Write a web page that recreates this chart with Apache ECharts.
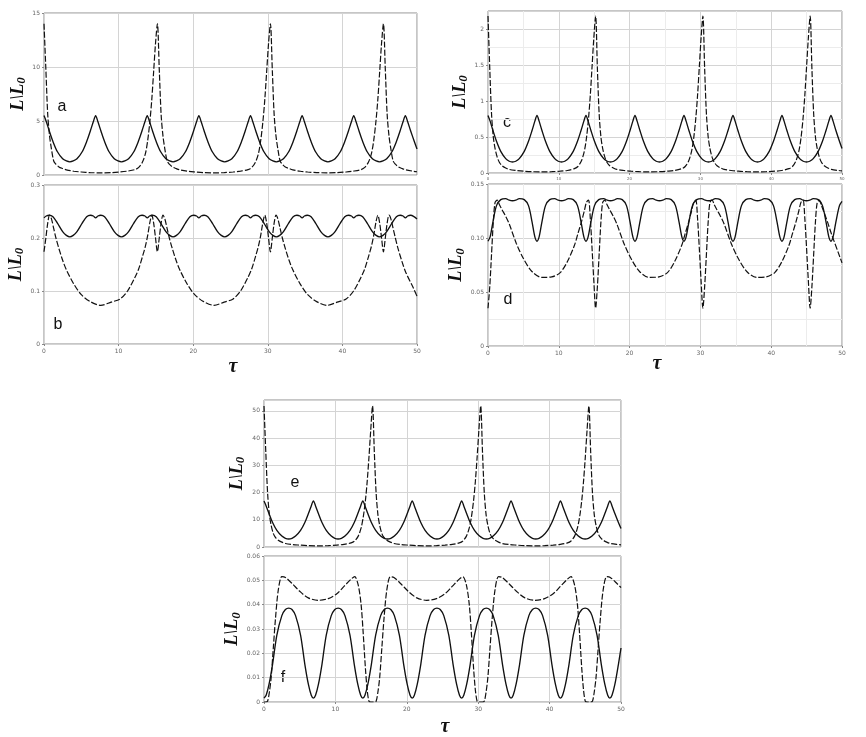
<!DOCTYPE html>
<html>
<head>
<meta charset="utf-8">
<script src="https://cdn.jsdelivr.net/npm/echarts@6/dist/echarts.min.js"></script>
<style>
  html, body { margin: 0; padding: 0; background: #fff; }
  #main { width: 866px; height: 737px; }
</style>
</head>
<body>
<div id="main"></div>
<script>
// tau samples for the solid curves (one period = peak, flank, trough, flank)
const solidTau = [
  0, 0.3, 0.7, 1.2, 1.8, 2.5, 3, 3.46, 3.92, 4.42, 5.12, 5.72, 6.22, 6.62,
  6.92, 7.22, 7.62, 8.12, 8.72, 9.42, 9.92, 10.38, 10.84, 11.34, 12.04, 12.64, 13.14, 13.54,
  13.84, 14.14, 14.54, 15.04, 15.64, 16.34, 16.84, 17.3, 17.76, 18.26, 18.96, 19.56, 20.06, 20.46,
  20.76, 21.06, 21.46, 21.96, 22.56, 23.26, 23.76, 24.22, 24.68, 25.18, 25.88, 26.48, 26.98, 27.38,
  27.68, 27.98, 28.38, 28.88, 29.48, 30.18, 30.68, 31.14, 31.6, 32.1, 32.8, 33.4, 33.9, 34.3,
  34.6, 34.9, 35.3, 35.8, 36.4, 37.1, 37.6, 38.06, 38.52, 39.02, 39.72, 40.32, 40.82, 41.22,
  41.52, 41.82, 42.22, 42.72, 43.32, 44.02, 44.52, 44.98, 45.44, 45.94, 46.64, 47.24, 47.74, 48.14,
  48.44, 48.74, 49.14, 49.64, 50
];
// tau samples for the dashed curves
const dashTau = [
  0, 0.25, 0.5, 0.75, 1, 1.3, 1.6, 2, 2.5, 3, 4, 5, 6.2, 7.6,
  9, 10.2, 11.2, 12.2, 12.7, 13.2, 13.6, 13.9, 14.2, 14.45, 14.7, 14.95, 15.2,
  15.45, 15.7, 15.95, 16.2, 16.5, 16.8, 17.2, 17.7, 18.2, 19.2, 20.2, 21.4, 22.78,
  24.15, 25.35, 26.35, 27.35, 27.85, 28.35, 28.75, 29.05, 29.35, 29.6, 29.85, 30.1, 30.35,
  30.6, 30.85, 31.1, 31.35, 31.65, 31.95, 32.35, 32.85, 33.35, 34.35, 35.35, 36.55, 37.93,
  39.3, 40.5, 41.5, 42.5, 43, 43.5, 43.9, 44.2, 44.5, 44.75, 45, 45.25, 45.5,
  45.75, 46, 46.25, 46.5, 46.8, 47.1, 47.5, 48, 48.5, 49.5, 50
];

// ---- panel a ----
const aSolid = [
  5.5, 4.95, 4.1, 3.1, 2.15, 1.5, 1.3, 1.22, 1.3, 1.5, 2.15, 3.1, 4.1, 4.95,
  5.5, 4.95, 4.1, 3.1, 2.15, 1.5, 1.3, 1.22, 1.3, 1.5, 2.15, 3.1, 4.1, 4.95,
  5.5, 4.95, 4.1, 3.1, 2.15, 1.5, 1.3, 1.22, 1.3, 1.5, 2.15, 3.1, 4.1, 4.95,
  5.5, 4.95, 4.1, 3.1, 2.15, 1.5, 1.3, 1.22, 1.3, 1.5, 2.15, 3.1, 4.1, 4.95,
  5.5, 4.95, 4.1, 3.1, 2.15, 1.5, 1.3, 1.22, 1.3, 1.5, 2.15, 3.1, 4.1, 4.95,
  5.5, 4.95, 4.1, 3.1, 2.15, 1.5, 1.3, 1.22, 1.3, 1.5, 2.15, 3.1, 4.1, 4.95,
  5.5, 4.95, 4.1, 3.1, 2.15, 1.5, 1.3, 1.22, 1.3, 1.5, 2.15, 3.1, 4.1, 4.95,
  5.5, 4.95, 4.1, 3.1, 2.4
];
const aDash = [
  14, 9.8, 5.6, 3.6, 2.4, 1.3, 1.0, 0.75, 0.6, 0.48, 0.35, 0.28, 0.22, 0.2,
  0.22, 0.28, 0.36, 0.5, 0.7, 1.2, 2.0, 3.2, 5.0, 7.0, 9.6, 12.2, 14,
  9.8, 5.6, 3.6, 2.4, 1.3, 1.0, 0.75, 0.6, 0.48, 0.35, 0.28, 0.22, 0.2,
  0.22, 0.28, 0.36, 0.5, 0.7, 1.2, 2.0, 3.2, 5.0, 7.0, 9.6, 12.2, 14,
  9.8, 5.6, 3.6, 2.4, 1.3, 1.0, 0.75, 0.6, 0.48, 0.35, 0.28, 0.22, 0.2,
  0.22, 0.28, 0.36, 0.5, 0.7, 1.2, 2.0, 3.2, 5.0, 7.0, 9.6, 12.2, 14,
  9.8, 5.6, 3.6, 2.4, 1.3, 1.0, 0.75, 0.6, 0.48, 0.35, 0.3
];

// ---- panel b ----
const bSolid = [
  0.238, 0.2415, 0.243, 0.24, 0.228, 0.212, 0.205, 0.202, 0.205, 0.212, 0.228, 0.24, 0.243, 0.2415,
  0.238, 0.2415, 0.243, 0.24, 0.228, 0.212, 0.205, 0.202, 0.205, 0.212, 0.228, 0.24, 0.243, 0.2415,
  0.238, 0.2415, 0.243, 0.24, 0.228, 0.212, 0.205, 0.202, 0.205, 0.212, 0.228, 0.24, 0.243, 0.2415,
  0.238, 0.2415, 0.243, 0.24, 0.228, 0.212, 0.205, 0.202, 0.205, 0.212, 0.228, 0.24, 0.243, 0.2415,
  0.238, 0.2415, 0.243, 0.24, 0.228, 0.212, 0.205, 0.202, 0.205, 0.212, 0.228, 0.24, 0.243, 0.2415,
  0.238, 0.2415, 0.243, 0.24, 0.228, 0.212, 0.205, 0.202, 0.205, 0.212, 0.228, 0.24, 0.243, 0.2415,
  0.238, 0.2415, 0.243, 0.24, 0.228, 0.212, 0.205, 0.202, 0.205, 0.212, 0.228, 0.24, 0.243, 0.2415,
  0.238, 0.2415, 0.243, 0.24, 0.236
];
const bDash = [
  0.174, 0.2, 0.228, 0.243, 0.236, 0.218, 0.2, 0.18, 0.158, 0.14, 0.113, 0.093, 0.08, 0.073,
  0.079, 0.085, 0.1, 0.126, 0.142, 0.165, 0.185, 0.205, 0.23, 0.243, 0.228, 0.2, 0.174,
  0.2, 0.228, 0.243, 0.236, 0.218, 0.2, 0.18, 0.158, 0.14, 0.113, 0.093, 0.08, 0.073,
  0.079, 0.085, 0.1, 0.126, 0.142, 0.165, 0.185, 0.205, 0.23, 0.243, 0.228, 0.2, 0.174,
  0.2, 0.228, 0.243, 0.236, 0.218, 0.2, 0.18, 0.158, 0.14, 0.113, 0.093, 0.08, 0.073,
  0.079, 0.085, 0.1, 0.126, 0.142, 0.165, 0.185, 0.205, 0.23, 0.243, 0.228, 0.2, 0.174,
  0.2, 0.228, 0.243, 0.236, 0.218, 0.2, 0.178, 0.155, 0.135, 0.106, 0.09
];

// ---- panel c ----
const cSolid = [
  0.8, 0.72, 0.59, 0.44, 0.3, 0.2, 0.163, 0.153, 0.163, 0.2, 0.3, 0.44, 0.59, 0.72,
  0.8, 0.72, 0.59, 0.44, 0.3, 0.2, 0.163, 0.153, 0.163, 0.2, 0.3, 0.44, 0.59, 0.72,
  0.8, 0.72, 0.59, 0.44, 0.3, 0.2, 0.163, 0.153, 0.163, 0.2, 0.3, 0.44, 0.59, 0.72,
  0.8, 0.72, 0.59, 0.44, 0.3, 0.2, 0.163, 0.153, 0.163, 0.2, 0.3, 0.44, 0.59, 0.72,
  0.8, 0.72, 0.59, 0.44, 0.3, 0.2, 0.163, 0.153, 0.163, 0.2, 0.3, 0.44, 0.59, 0.72,
  0.8, 0.72, 0.59, 0.44, 0.3, 0.2, 0.163, 0.153, 0.163, 0.2, 0.3, 0.44, 0.59, 0.72,
  0.8, 0.72, 0.59, 0.44, 0.3, 0.2, 0.163, 0.153, 0.163, 0.2, 0.3, 0.44, 0.59, 0.72,
  0.8, 0.72, 0.59, 0.44, 0.34
];
const cDash = [
  2.18, 1.45, 0.82, 0.5, 0.34, 0.22, 0.15, 0.1, 0.07, 0.05, 0.035, 0.025, 0.018, 0.015,
  0.018, 0.025, 0.035, 0.06, 0.09, 0.17, 0.3, 0.48, 0.76, 1.08, 1.48, 1.88, 2.18,
  1.45, 0.82, 0.5, 0.34, 0.22, 0.15, 0.1, 0.07, 0.05, 0.035, 0.025, 0.018, 0.015,
  0.018, 0.025, 0.035, 0.06, 0.09, 0.17, 0.3, 0.48, 0.76, 1.08, 1.48, 1.88, 2.18,
  1.45, 0.82, 0.5, 0.34, 0.22, 0.15, 0.1, 0.07, 0.05, 0.035, 0.025, 0.018, 0.015,
  0.018, 0.025, 0.035, 0.06, 0.09, 0.17, 0.3, 0.48, 0.76, 1.08, 1.48, 1.88, 2.18,
  1.45, 0.82, 0.5, 0.34, 0.22, 0.15, 0.1, 0.07, 0.05, 0.035, 0.03
];

// ---- panel d ----
const dSolid = [
  0.097, 0.101, 0.115, 0.13, 0.1355, 0.1365, 0.135, 0.1345, 0.135, 0.1365, 0.1355, 0.13, 0.115, 0.101,
  0.097, 0.101, 0.115, 0.13, 0.1355, 0.1365, 0.135, 0.1345, 0.135, 0.1365, 0.1355, 0.13, 0.115, 0.101,
  0.097, 0.101, 0.115, 0.13, 0.1355, 0.1365, 0.135, 0.1345, 0.135, 0.1365, 0.1355, 0.13, 0.115, 0.101,
  0.097, 0.101, 0.115, 0.13, 0.1355, 0.1365, 0.135, 0.1345, 0.135, 0.1365, 0.1355, 0.13, 0.115, 0.101,
  0.097, 0.101, 0.115, 0.13, 0.1355, 0.1365, 0.135, 0.1345, 0.135, 0.1365, 0.1355, 0.13, 0.115, 0.101,
  0.097, 0.101, 0.115, 0.13, 0.1355, 0.1365, 0.135, 0.1345, 0.135, 0.1365, 0.1355, 0.13, 0.115, 0.101,
  0.097, 0.101, 0.115, 0.13, 0.1355, 0.1365, 0.135, 0.1345, 0.135, 0.1365, 0.1355, 0.13, 0.115, 0.101,
  0.097, 0.101, 0.115, 0.13, 0.134
];
const dDash = [
  0.035, 0.055, 0.085, 0.115, 0.133, 0.135, 0.131, 0.126, 0.12, 0.113, 0.095, 0.081, 0.069, 0.0635,
  0.064, 0.068, 0.078, 0.093, 0.104, 0.115, 0.125, 0.133, 0.135, 0.118, 0.09, 0.06, 0.035,
  0.055, 0.085, 0.115, 0.133, 0.135, 0.131, 0.126, 0.12, 0.113, 0.095, 0.081, 0.069, 0.0635,
  0.064, 0.068, 0.078, 0.093, 0.104, 0.115, 0.125, 0.133, 0.135, 0.118, 0.09, 0.06, 0.035,
  0.055, 0.085, 0.115, 0.133, 0.135, 0.131, 0.126, 0.12, 0.113, 0.095, 0.081, 0.069, 0.0635,
  0.064, 0.068, 0.078, 0.093, 0.104, 0.115, 0.125, 0.133, 0.135, 0.118, 0.09, 0.06, 0.035,
  0.055, 0.085, 0.115, 0.133, 0.135, 0.13, 0.123, 0.114, 0.104, 0.086, 0.077
];

// ---- panel e ----
const eSolid = [
  16.9, 15.1, 12.3, 9, 6.1, 4, 3.2, 2.95, 3.2, 4, 6.1, 9, 12.3, 15.1,
  16.9, 15.1, 12.3, 9, 6.1, 4, 3.2, 2.95, 3.2, 4, 6.1, 9, 12.3, 15.1,
  16.9, 15.1, 12.3, 9, 6.1, 4, 3.2, 2.95, 3.2, 4, 6.1, 9, 12.3, 15.1,
  16.9, 15.1, 12.3, 9, 6.1, 4, 3.2, 2.95, 3.2, 4, 6.1, 9, 12.3, 15.1,
  16.9, 15.1, 12.3, 9, 6.1, 4, 3.2, 2.95, 3.2, 4, 6.1, 9, 12.3, 15.1,
  16.9, 15.1, 12.3, 9, 6.1, 4, 3.2, 2.95, 3.2, 4, 6.1, 9, 12.3, 15.1,
  16.9, 15.1, 12.3, 9, 6.1, 4, 3.2, 2.95, 3.2, 4, 6.1, 9, 12.3, 15.1,
  16.9, 15.1, 12.3, 9, 6.8
];
const eDash = [
  51.8, 35, 20, 12, 8, 5, 3.5, 2.5, 1.8, 1.3, 0.9, 0.7, 0.5, 0.4,
  0.5, 0.7, 0.95, 1.5, 2.2, 4, 7, 11, 17, 24, 33, 43, 51.8,
  35, 20, 12, 8, 5, 3.5, 2.5, 1.8, 1.3, 0.9, 0.7, 0.5, 0.4,
  0.5, 0.7, 0.95, 1.5, 2.2, 4, 7, 11, 17, 24, 33, 43, 51.8,
  35, 20, 12, 8, 5, 3.5, 2.5, 1.8, 1.3, 0.9, 0.7, 0.5, 0.4,
  0.5, 0.7, 0.95, 1.5, 2.2, 4, 7, 11, 17, 24, 33, 43, 51.8,
  35, 20, 12, 8, 5, 3.5, 2.5, 1.8, 1.3, 0.9, 0.8
];

// ---- panel f ----
const fSolid = [
  0.0016, 0.0028, 0.0072, 0.0155, 0.0275, 0.0355, 0.038, 0.0386, 0.038, 0.0355, 0.0275, 0.0155, 0.0072, 0.0028,
  0.0016, 0.0028, 0.0072, 0.0155, 0.0275, 0.0355, 0.038, 0.0386, 0.038, 0.0355, 0.0275, 0.0155, 0.0072, 0.0028,
  0.0016, 0.0028, 0.0072, 0.0155, 0.0275, 0.0355, 0.038, 0.0386, 0.038, 0.0355, 0.0275, 0.0155, 0.0072, 0.0028,
  0.0016, 0.0028, 0.0072, 0.0155, 0.0275, 0.0355, 0.038, 0.0386, 0.038, 0.0355, 0.0275, 0.0155, 0.0072, 0.0028,
  0.0016, 0.0028, 0.0072, 0.0155, 0.0275, 0.0355, 0.038, 0.0386, 0.038, 0.0355, 0.0275, 0.0155, 0.0072, 0.0028,
  0.0016, 0.0028, 0.0072, 0.0155, 0.0275, 0.0355, 0.038, 0.0386, 0.038, 0.0355, 0.0275, 0.0155, 0.0072, 0.0028,
  0.0016, 0.0028, 0.0072, 0.0155, 0.0275, 0.0355, 0.038, 0.0386, 0.038, 0.0355, 0.0275, 0.0155, 0.0072, 0.0028,
  0.0016, 0.0028, 0.0072, 0.0155, 0.0222
];
const fDash = [
  0, 0, 0.0003, 0.004, 0.01, 0.022, 0.034, 0.046, 0.0515, 0.0512, 0.0485, 0.0455, 0.0428, 0.0418,
  0.0425, 0.0445, 0.0475, 0.0505, 0.0515, 0.048, 0.04, 0.028, 0.014, 0.005, 0.0003, 0, 0,
  0, 0.0003, 0.004, 0.01, 0.022, 0.034, 0.046, 0.0515, 0.0512, 0.0485, 0.0455, 0.0428, 0.0418,
  0.0425, 0.0445, 0.0475, 0.0505, 0.0515, 0.048, 0.04, 0.028, 0.014, 0.005, 0.0003, 0, 0,
  0, 0.0003, 0.004, 0.01, 0.022, 0.034, 0.046, 0.0515, 0.0512, 0.0485, 0.0455, 0.0428, 0.0418,
  0.0425, 0.0445, 0.0475, 0.0505, 0.0515, 0.048, 0.04, 0.028, 0.014, 0.005, 0.0003, 0, 0,
  0, 0.0003, 0.004, 0.01, 0.022, 0.034, 0.046, 0.0515, 0.0512, 0.0485, 0.047
];

function pairs(tau, vals) {
  return tau.map((t, i) => [t, vals[i]]);
}

const grids = [
  { left: 44, top: 13, width: 373, height: 162 },
  { left: 44, top: 185, width: 373, height: 159 },
  { left: 488, top: 11, width: 354, height: 162 },
  { left: 488, top: 184, width: 354, height: 162 },
  { left: 264, top: 400, width: 357, height: 147 },
  { left: 264, top: 556, width: 357, height: 146 }
];
// y ranges and label gaps for each panel
const yCfg = [
  { max: 15, interval: 5, gap: 16, minor: false, fmt: v => String(v) },
  { max: 0.3, interval: 0.1, gap: 14, minor: false, fmt: v => (v === 0 ? '0' : v.toFixed(1)) },
  { max: 2.25, interval: 0.5, gap: 10, minor: true, fmt: v => String(v) },
  { max: 0.15, interval: 0.05, gap: 20, minor: true, fmt: v => (v === 0 ? '0' : v.toFixed(2)) },
  { max: 54, interval: 10, gap: 17, minor: false, fmt: v => String(v) },
  { max: 0.06, interval: 0.01, gap: 18, minor: false, fmt: v => (v === 0 ? '0' : v.toFixed(2)) }
];
const showXLabels = [false, true, true, true, false, true];

const gridLine = { show: true, lineStyle: { color: '#d4d4d4', width: 1 } };
const minorLine = { show: true, lineStyle: { color: '#ececec', width: 1 } };
const tickFont = { fontSize: 6, color: '#666', fontFamily: 'DejaVu Sans' };
const nameRich = {
  m: { fontFamily: 'Liberation Serif', fontStyle: 'italic', fontWeight: 'bold', fontSize: 18, color: '#111' },
  s: { fontFamily: 'Liberation Serif', fontStyle: 'italic', fontWeight: 'bold', fontSize: 13, color: '#111', padding: [7, 0, 0, 0] }
};

const xAxes = grids.map((g, i) => ({
  type: 'value', gridIndex: i, min: 0, max: 50, interval: 10,
  axisLine: { show: false },
  axisTick: { show: showXLabels[i], length: 2, lineStyle: { color: '#888' } },
  axisLabel: Object.assign({ show: showXLabels[i], margin: 4 }, tickFont, i === 2 ? { fontSize: 4 } : {}),
  splitLine: gridLine,
  minorTick: { show: false, splitNumber: 2 },
  minorSplitLine: yCfg[i].minor ? minorLine : { show: false }
}));

const yAxes = grids.map((g, i) => ({
  type: 'value', gridIndex: i, min: 0, max: yCfg[i].max, interval: yCfg[i].interval,
  axisLine: { show: false },
  axisTick: { show: true, length: 2, lineStyle: { color: '#888' } },
  axisLabel: Object.assign({ margin: 4, showMaxLabel: i === 0 || i === 1 || i === 3 || i === 5, formatter: yCfg[i].fmt }, tickFont),
  splitLine: gridLine,
  minorTick: { show: false, splitNumber: 2 },
  minorSplitLine: yCfg[i].minor ? minorLine : { show: false },
  name: '{m|L\\L}{s|0}',
  nameLocation: 'middle',
  nameGap: yCfg[i].gap,
  nameRotate: 90,
  nameTextStyle: { rich: nameRich }
}));

const curves = [
  [solidTau, aSolid, 0, false], [dashTau, aDash, 0, true],
  [solidTau, bSolid, 1, false], [dashTau, bDash, 1, true],
  [solidTau, cSolid, 2, false], [dashTau, cDash, 2, true],
  [solidTau, dSolid, 3, false], [dashTau, dDash, 3, true],
  [solidTau, eSolid, 4, false], [dashTau, eDash, 4, true],
  [solidTau, fSolid, 5, false], [dashTau, fDash, 5, true]
];

const series = curves.map(c => ({
  type: 'line',
  xAxisIndex: c[2],
  yAxisIndex: c[2],
  data: pairs(c[0], c[1]),
  showSymbol: false,
  smooth: 0.3,
  clip: true,
  lineStyle: c[3]
    ? { color: '#111', width: 1.2, type: [6, 2] }
    : { color: '#111', width: 1.35 }
}));

const letters = [['a', 62, 107], ['b', 58, 325], ['c', 507, 123], ['d', 508, 300], ['e', 295, 483], ['f', 283, 678]];
const taus = [[233, 367], [657, 364], [445, 727]];

const graphic = letters.map(l => ({
  type: 'text', x: l[1], y: l[2],
  style: { text: l[0], font: '16px "Liberation Sans"', fill: '#111', align: 'center', verticalAlign: 'middle' }
})).concat(taus.map(t => ({
  type: 'text', x: t[0], y: t[1],
  style: { text: 'τ', font: 'italic bold 20px "Liberation Serif"', fill: '#111', align: 'center', verticalAlign: 'middle' }
})));

const chart = echarts.init(document.getElementById('main'));
chart.setOption({
  animation: false,
  backgroundColor: '#fff',
  grid: grids.map(g => Object.assign({ show: true, borderColor: '#8c8c8c', borderWidth: 1 }, g)),
  xAxis: xAxes,
  yAxis: yAxes,
  series: series,
  graphic: graphic
});
</script>
</body>
</html>
